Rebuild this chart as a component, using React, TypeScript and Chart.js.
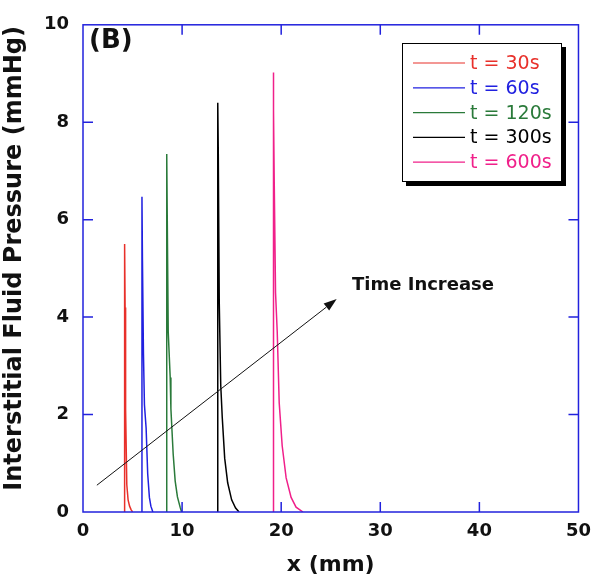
import React, { useEffect, useRef } from "react";
import { Chart, registerables } from "chart.js";

Chart.register(...registerables);

// ---- data (x in mm, pressure in mmHg) ----
const LABELS = ["t = 30s", "t = 60s", "t = 120s", "t = 300s", "t = 600s"];
const COLORS = ["#e8302a", "#2020e0", "#2a7a3a", "#000000", "#f0208a"];

const X_30 = [4.2, 4.2, 4.25, 4.3, 4.42, 4.55, 4.7, 4.85, 5.0];
const P_30 = [0, 5.5, 4.2, 2.1, 0.56, 0.25, 0.12, 0.05, 0];

const X_60 = [5.95, 5.95, 6.0, 6.1, 6.2, 6.37, 6.53, 6.7, 6.85, 7.05];
const P_60 = [0, 6.47, 5.16, 3.26, 2.2, 1.72, 0.78, 0.3, 0.12, 0];

const X_120 = [8.45, 8.45, 8.5, 8.6, 8.8, 8.87, 9.1, 9.3, 9.53, 9.8, 9.95];
const P_120 = [0, 7.35, 6.1, 3.7, 2.76, 2.12, 1.19, 0.64, 0.31, 0.1, 0];

const X_300 = [13.6, 13.6, 13.65, 13.75, 13.9, 14.05, 14.3, 14.6, 15.0, 15.4, 15.75];
const P_300 = [0, 8.4, 7.43, 4.3, 2.6, 1.95, 1.1, 0.6, 0.25, 0.08, 0];

const X_600 = [19.2, 19.2, 19.25, 19.3, 19.43, 19.6, 19.8, 20.1, 20.5, 21.0, 21.5, 22.2];
const P_600 = [0, 9.02, 8.24, 6.74, 4.5, 3.7, 2.24, 1.36, 0.7, 0.3, 0.1, 0];

const SERIES_X = [X_30, X_60, X_120, X_300, X_600];
const SERIES_P = [P_30, P_60, P_120, P_300, P_600];

const X_TICK_STEP = 10;
const Y_TICK_STEP = 2;

const X_TITLE = "x (mm)";
const Y_TITLE = "Interstitial Fluid Pressure (mmHg)";

// annotation arrow (data coordinates)
const ARROW_START = { x: 1.4, y: 0.55 };
const ARROW_END = { x: 25.6, y: 4.37 };
const ARROW_TEXT = "Time Increase";
const PANEL_LABEL = "(B)";

const FONT = "'DejaVu Sans', sans-serif";
const AXIS_BLUE = "#2222dd";

const overlayPlugin = {
  id: "overlay",
  afterDatasetsDraw(chart: any) {
    const { ctx, chartArea } = chart;
    const xs = chart.scales.x;
    const ys = chart.scales.y;
    const { left, right, top, bottom } = chartArea;
    ctx.save();

    // frame
    ctx.strokeStyle = AXIS_BLUE;
    ctx.lineWidth = 1.5;
    ctx.strokeRect(left, top, right - left, bottom - top);

    // inward ticks on all sides
    const TL = 10;
    ctx.beginPath();
    xs.ticks.forEach((t: any) => {
      const px = xs.getPixelForValue(t.value);
      if (Math.abs(px - left) < 1 || Math.abs(px - right) < 1) return;
      ctx.moveTo(px, bottom);
      ctx.lineTo(px, bottom - TL);
      ctx.moveTo(px, top);
      ctx.lineTo(px, top + TL);
    });
    ys.ticks.forEach((t: any) => {
      const py = ys.getPixelForValue(t.value);
      if (Math.abs(py - top) < 1 || Math.abs(py - bottom) < 1) return;
      ctx.moveTo(left, py);
      ctx.lineTo(left + TL, py);
      ctx.moveTo(right, py);
      ctx.lineTo(right - TL, py);
    });
    ctx.stroke();

    // arrow
    const x1 = xs.getPixelForValue(ARROW_START.x);
    const y1 = ys.getPixelForValue(ARROW_START.y);
    const x2 = xs.getPixelForValue(ARROW_END.x);
    const y2 = ys.getPixelForValue(ARROW_END.y);
    const ang = Math.atan2(y2 - y1, x2 - x1);
    const HL = 13;
    const HW = 4.5;
    ctx.strokeStyle = "#111";
    ctx.fillStyle = "#111";
    ctx.lineWidth = 1;
    ctx.beginPath();
    ctx.moveTo(x1, y1);
    ctx.lineTo(x2 - HL * Math.cos(ang), y2 - HL * Math.sin(ang));
    ctx.stroke();
    ctx.beginPath();
    ctx.moveTo(x2, y2);
    ctx.lineTo(
      x2 - HL * Math.cos(ang) + HW * Math.sin(ang),
      y2 - HL * Math.sin(ang) - HW * Math.cos(ang)
    );
    ctx.lineTo(
      x2 - HL * Math.cos(ang) - HW * Math.sin(ang),
      y2 - HL * Math.sin(ang) + HW * Math.cos(ang)
    );
    ctx.closePath();
    ctx.fill();

    // texts
    ctx.fillStyle = "#111";
    ctx.textAlign = "left";
    ctx.textBaseline = "alphabetic";
    ctx.font = `bold 18px ${FONT}`;
    ctx.fillText(ARROW_TEXT, 352, 290);
    ctx.font = `bold 26px ${FONT}`;
    ctx.fillText(PANEL_LABEL, 89, 48);

    // y axis title
    ctx.save();
    ctx.translate(15, (top + bottom) / 2 - 10);
    ctx.rotate(-Math.PI / 2);
    ctx.textAlign = "center";
    ctx.textBaseline = "middle";
    ctx.font = `bold 24px ${FONT}`;
    ctx.fillText(Y_TITLE, 0, 0);
    ctx.restore();

    // legend box with shadow
    const lx = 402, ly = 43, lw = 160, lh = 139;
    ctx.fillStyle = "#000";
    ctx.fillRect(lx + 4, ly + 4, lw, lh);
    ctx.fillStyle = "#fff";
    ctx.fillRect(lx, ly, lw, lh);
    ctx.strokeStyle = "#000";
    ctx.lineWidth = 1;
    ctx.strokeRect(lx + 0.5, ly + 0.5, lw - 1, lh - 1);
    ctx.font = `19px ${FONT}`;
    ctx.textBaseline = "middle";
    chart.data.datasets.forEach((ds: any, i: number) => {
      const ry = 63 + i * 24.8;
      ctx.strokeStyle = ds.borderColor;
      ctx.lineWidth = 1.2;
      ctx.beginPath();
      ctx.moveTo(413, ry);
      ctx.lineTo(465, ry);
      ctx.stroke();
      ctx.fillStyle = ds.borderColor;
      ctx.fillText(ds.label, 470, ry + 1);
    });

    ctx.restore();
  },
};

export default function App() {
  const ref = useRef<HTMLCanvasElement | null>(null);

  useEffect(() => {
    if (!ref.current) return;
    const datasets = LABELS.map((label, i) => ({
      label,
      data: SERIES_X[i].map((x, j) => ({ x, y: SERIES_P[i][j] })),
      borderColor: COLORS[i],
      backgroundColor: COLORS[i],
      borderWidth: 1.5,
      pointRadius: 0,
      tension: 0,
      fill: false,
    }));

    const chart = new Chart(ref.current, {
      type: "line",
      data: { datasets },
      options: {
        animation: false,
        responsive: false,
        maintainAspectRatio: false,
        layout: { padding: { left: 0, top: 15, right: 17, bottom: 0 } },
        plugins: {
          legend: { display: false },
          tooltip: { enabled: false },
        },
        scales: {
          x: {
            type: "linear",
            min: 0,
            max: 50,
            grid: { display: false, drawTicks: false },
            border: { display: false },
            ticks: {
              stepSize: X_TICK_STEP,
              color: "#111",
              padding: 9,
              font: { family: FONT, size: 18, weight: "bold" },
              maxRotation: 0,
            },
            title: {
              display: true,
              text: X_TITLE,
              color: "#111",
              font: { family: FONT, size: 22, weight: "bold" },
              padding: { top: 0, bottom: 2 },
            },
            afterFit: (s: any) => {
              s.height = 68;
            },
          },
          y: {
            type: "linear",
            min: 0,
            max: 10,
            grid: { display: false, drawTicks: false },
            border: { display: false },
            ticks: {
              stepSize: Y_TICK_STEP,
              color: "#111",
              padding: 14,
              font: { family: FONT, size: 18, weight: "bold" },
            },
            title: { display: false },
            afterFit: (s: any) => {
              s.width = 83;
            },
          },
        },
      } as any,
      plugins: [overlayPlugin],
    });
    return () => chart.destroy();
  }, []);

  return (
    <div style={{ position: "absolute", left: 0, top: 0, width: 600, height: 580, background: "#fff" }}>
      <canvas ref={ref} width={600} height={580} style={{ width: 600, height: 580 }} />
    </div>
  );
}
